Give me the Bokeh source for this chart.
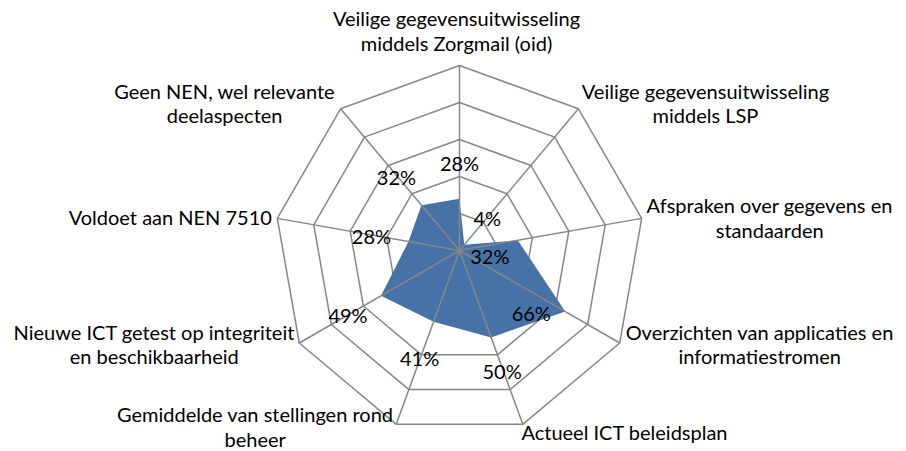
import numpy as np
from bokeh.plotting import figure
from bokeh.models import ColumnDataSource, Range1d
from bokeh.embed import file_html
from bokeh.resources import INLINE
from bokeh.core.properties import value

# ---- data ----
categories = [
    "Veilige gegevensuitwisseling\nmiddels Zorgmail (oid)",
    "Veilige gegevensuitwisseling\nmiddels LSP",
    "Afspraken over gegevens en\nstandaarden",
    "Overzichten van applicaties en\ninformatiestromen",
    "Actueel ICT beleidsplan",
    "Gemiddelde van stellingen rond\nbeheer",
    "Nieuwe ICT getest op integriteit\nen beschikbaarheid",
    "Voldoet aan NEN 7510",
    "Geen NEN, wel relevante\ndeelaspecten",
]
values = [28, 4, 32, 66, 50, 41, 49, 28, 32]
value_labels = ["28%", "4%", "32%", "66%", "50%", "41%", "49%", "28%", "32%"]
ring_levels = [20, 40, 60, 80, 100]

# ---- style / layout ----
W, H = 906, 451
CX, CY = 459, 250          # centre in canvas pixels
PX = 1.85                  # pixels per percent
FONT = value("Lato")
FS = "20px"
GRID = "#878787"
FILL = "#4672A8"

# label offsets in screen pixels (style only)
cat_dx = [-3, 127, 128, 140, 102, -141, -145, -107, -116]
cat_dy = [-35, -6, -1, 1, 8, 2, 1, -1, -6]
val_dx = [0, 23, -28, -34, 11, -14, -33, -37, -25]
val_dy = [-36, -27, 16, 1, 34, 36, 19, -6, -28]

n = len(categories)
theta = np.pi / 2 - np.arange(n) * 2 * np.pi / n
cos_t, sin_t = np.cos(theta), np.sin(theta)

p = figure(width=W, height=H, output_backend="svg", toolbar_location=None,
           x_axis_type=None, y_axis_type=None, min_border=0,
           x_range=Range1d(-CX / PX, (W - CX) / PX),
           y_range=Range1d(-(H - CY) / PX, CY / PX))
p.grid.visible = False
p.outline_line_color = None
p.background_fill_color = "white"
p.border_fill_color = "white"

# rings (beneath)
rx = [list(np.append(r * cos_t, r * cos_t[0])) for r in ring_levels]
ry = [list(np.append(r * sin_t, r * sin_t[0])) for r in ring_levels]
p.multi_line(rx, ry, line_color=GRID, line_width=1.5)

# data polygon
vals = np.array(values, dtype=float)
p.patch(list(vals * cos_t), list(vals * sin_t), fill_color=FILL, line_color=None)

# spokes (on top)
top = ring_levels[-1]
p.multi_line([[0, top * c] for c in cos_t], [[0, top * s] for s in sin_t],
             line_color=GRID, line_width=1.5)

# category labels
cat_src = ColumnDataSource(dict(x=top * cos_t, y=top * sin_t, t=categories,
                                dx=cat_dx, dy=cat_dy))
p.text(x="x", y="y", text="t", x_offset="dx", y_offset="dy", source=cat_src,
       text_font=FONT, text_font_size=FS, text_align="center",
       text_baseline="middle", text_color="black", text_line_height=1.02)

# value labels
val_src = ColumnDataSource(dict(x=vals * cos_t, y=vals * sin_t, t=value_labels,
                                dx=val_dx, dy=val_dy))
p.text(x="x", y="y", text="t", x_offset="dx", y_offset="dy", source=val_src,
       text_font=FONT, text_font_size=FS, text_align="center",
       text_baseline="middle", text_color="black")

open("out.html", "w").write(file_html(p, INLINE))
